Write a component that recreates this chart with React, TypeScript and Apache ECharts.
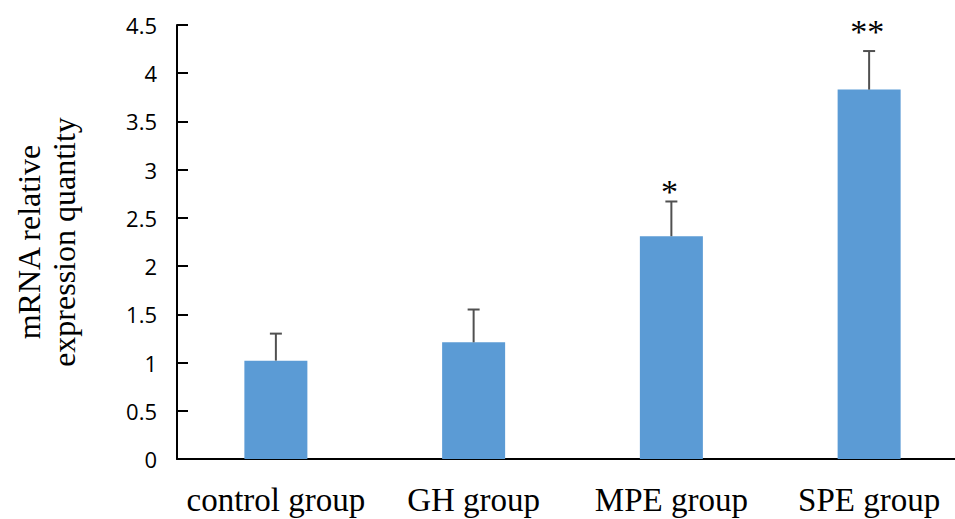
import React, { useEffect, useRef } from "react";
import * as echarts from "echarts";

const categories = ["control group", "GH group", "MPE group", "SPE group"];
const means = [1.02, 1.21, 2.31, 3.83];
const errors = [0.28, 0.34, 0.36, 0.4];
const significance = ["", "", "*", "**"];
const yTicks = [0, 0.5, 1, 1.5, 2, 2.5, 3, 3.5, 4, 4.5];

const sigGap: Record<string, number> = { "*": 10, "**": 20 };

export default function App() {
  const ref = useRef<HTMLDivElement>(null);
  useEffect(() => {
    document.body.style.margin = "0";
    if (!ref.current) return;
    const chart = echarts.init(ref.current, null, { renderer: "svg" });
    const errData = categories.map((c, i) => [i, means[i], means[i] + errors[i], significance[i]]);
    chart.setOption({
      animation: false,
      backgroundColor: "#ffffff",
      grid: {
        left: 177,
        top: 25,
        width: 791,
        height: 434,
        outerBoundsMode: "none",
        containLabel: false,
      },
      xAxis: {
        type: "category",
        data: categories,
        axisLine: { show: true, lineStyle: { color: "#000", width: 2 } },
        axisTick: { show: false },
        axisLabel: {
          interval: 0,
          hideOverlap: false,
          color: "#000",
          fontFamily: '"Liberation Serif", serif',
          fontSize: 33,
          margin: 24,
        },
      },
      yAxis: {
        type: "value",
        min: yTicks[0],
        max: yTicks[yTicks.length - 1],
        interval: 0.5,
        name: "mRNA relative\nexpression quantity",
        nameLocation: "middle",
        nameGap: 96,
        nameTextStyle: {
          color: "#000",
          fontFamily: '"Liberation Serif", serif',
          fontSize: 32,
          lineHeight: 35,
        },
        axisLine: { show: true, lineStyle: { color: "#000", width: 2 } },
        axisTick: { show: true, inside: true, length: 11, lineStyle: { color: "#000", width: 2 } },
        splitLine: { show: false },
        axisLabel: {
          color: "#000",
          fontFamily: '"Open Sans", sans-serif',
          fontSize: 22,
          margin: 20,
        },
      },
      series: [
        {
          type: "bar",
          data: means,
          barWidth: 63,
          itemStyle: { color: "#5B9BD5" },
        },
        {
          type: "custom",
          data: errData,
          z: 5,
          clip: false,
          renderItem: (params: any, api: any) => {
            const i = api.value(0);
            const base = api.coord([i, api.value(1)]);
            const top = api.coord([i, api.value(2)]);
            const sig = significance[params.dataIndex];
            const children: any[] = [
              {
                type: "line",
                shape: { x1: base[0], y1: base[1], x2: top[0], y2: top[1] },
                style: { stroke: "#505050", lineWidth: 2 },
              },
              {
                type: "line",
                shape: { x1: top[0] - 6, y1: top[1], x2: top[0] + 6, y2: top[1] },
                style: { stroke: "#505050", lineWidth: 2 },
              },
            ];
            if (sig) {
              children.push({
                type: "text",
                style: {
                  text: sig,
                  x: top[0] - 2,
                  y: top[1] - (sigGap[sig] || 10),
                  align: "center",
                  verticalAlign: "middle",
                  fill: "#000",
                  font: '34px "Liberation Serif", serif',
                },
              });
            }
            return { type: "group", children };
          },
        },
      ],
    });
    return () => chart.dispose();
  }, []);
  return <div ref={ref} style={{ width: 955, height: 519 }} />;
}
